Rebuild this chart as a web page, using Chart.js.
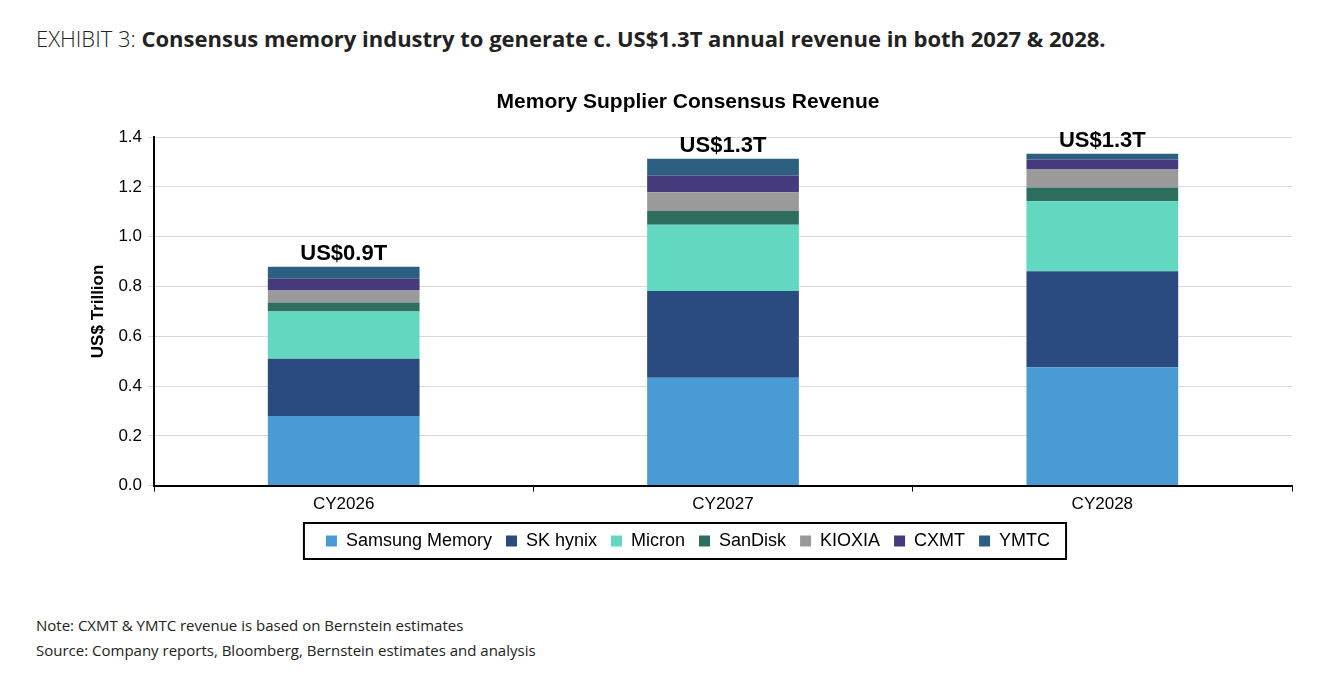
<!DOCTYPE html>
<html><head><meta charset="utf-8">
<script src="https://cdn.jsdelivr.net/npm/chart.js@4"></script>
<style>
body{margin:0;background:#fff;font-family:"Open Sans",sans-serif;width:1322px;height:684px;position:relative;overflow:hidden}
#head{position:absolute;left:36px;top:23px;font-size:22px;color:#222}
#head b{font-weight:700}
#wrap{position:absolute;left:0;top:80px;width:1322px;height:500px}
.note{position:absolute;left:36px;font-size:15px;color:#222}
</style></head><body>
<div id="head"><span style="font-weight:300">EXHIBIT 3:</span> <b>Consensus memory industry to generate c. US$1.3T annual revenue in both 2027 &amp; 2028.</b></div>
<div id="wrap"><canvas id="c"></canvas></div>
<div class="note" style="top:615px">Note: CXMT &amp; YMTC revenue is based on Bernstein estimates</div>
<div class="note" style="top:640px">Source: Company reports, Bloomberg, Bernstein estimates and analysis</div>
<script>
// categories and values (US$ trillion)
const years = ["CY2026", "CY2027", "CY2028"];
const totalLabels = ["US$0.9T", "US$1.3T", "US$1.3T"];
const samsung = [0.28, 0.433, 0.476];
const skhynix = [0.23, 0.349, 0.385];
const micron = [0.19, 0.266, 0.282];
const sandisk = [0.036, 0.055, 0.055];
const kioxia = [0.048, 0.076, 0.072];
const cxmt = [0.047, 0.067, 0.04];
const ymtc = [0.048, 0.067, 0.023];

const series = [
  ["Samsung Memory", samsung, "#4a9bd4"],
  ["SK hynix", skhynix, "#2b4a80"],
  ["Micron", micron, "#63d8c0"],
  ["SanDisk", sandisk, "#2e6e5e"],
  ["KIOXIA", kioxia, "#9a9a9a"],
  ["CXMT", cxmt, "#453a7c"],
  ["YMTC", ymtc, "#2d5f80"],
];

// total labels above stacks + border around legend items
const extras = {
  id: "extras",
  afterDatasetsDraw(chart) {
    const ctx = chart.ctx;
    const last = chart.getDatasetMeta(series.length - 1);
    ctx.save();
    ctx.font = "bold 22px Arial, 'Liberation Sans'";
    ctx.fillStyle = "#000";
    ctx.textAlign = "center";
    ctx.textBaseline = "bottom";
    last.data.forEach((bar, i) => ctx.fillText(totalLabels[i], bar.x, bar.y - 2));
    const boxes = chart.legend.legendHitBoxes || [];
    if (boxes.length) {
      const l = Math.min(...boxes.map(b => b.left)) - 22;
      const r = Math.max(...boxes.map(b => b.left + b.width)) + 16;
      const t = Math.min(...boxes.map(b => b.top)) - 9;
      const btm = Math.max(...boxes.map(b => b.top + b.height)) + 9;
      ctx.strokeStyle = "#000";
      ctx.lineWidth = 2;
      ctx.strokeRect(l, t, r - l, btm - t);
    }
    ctx.restore();
  }
};

new Chart(document.getElementById("c"), {
  type: "bar",
  data: {
    labels: years,
    datasets: series.map(([label, data, color]) => ({
      label, data, backgroundColor: color,
      barPercentage: 0.4, categoryPercentage: 1,
    })),
  },
  options: {
    responsive: true,
    maintainAspectRatio: false,
    animation: false,
    layout: { padding: { left: 84, right: 30, top: 0, bottom: 20 } },
    plugins: {
      title: {
        display: true,
        text: "Memory Supplier Consensus Revenue",
        color: "#000",
        font: { family: "Arial, 'Liberation Sans'", size: 21, weight: "bold" },
        padding: { top: 10, bottom: 22 },
      },
      legend: {
        position: "bottom",
        labels: {
          color: "#000",
          boxWidth: 11, boxHeight: 11,
          padding: 14,
          font: { family: "Arial, 'Liberation Sans'", size: 18 },
        },
      },
      tooltip: { enabled: false },
    },
    scales: {
      x: {
        stacked: true,
        border: { color: "#000", width: 2 },
        grid: { drawOnChartArea: false, color: "#000", tickLength: 6, offset: true },
        ticks: { color: "#000", font: { family: "Arial, 'Liberation Sans'", size: 17 } },
      },
      y: {
        stacked: true,
        min: 0, max: 1.4,
        border: { color: "#000", width: 2 },
        grid: { color: "#d9d9d9", tickLength: 6 },
        ticks: {
          stepSize: 0.2, color: "#000", padding: 6,
          font: { family: "Arial, 'Liberation Sans'", size: 17 },
          callback: v => v.toFixed(1),
        },
        title: {
          display: true, text: "US$ Trillion", color: "#000",
          font: { family: "Arial, 'Liberation Sans'", size: 17, weight: "bold" },
        },
      },
    },
  },
  plugins: [extras],
});
</script>
</body></html>
